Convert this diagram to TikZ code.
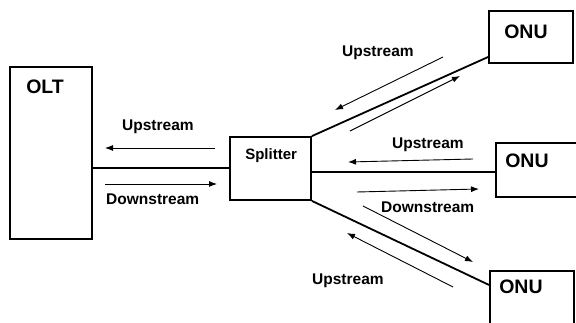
\documentclass[tikz,border=0pt]{standalone}
\usepackage{fontspec}
\setmainfont{Liberation Sans}
\usetikzlibrary{arrows.meta,backgrounds}

\begin{document}
\begin{tikzpicture}[%
        x=1pt, y=-1pt,%
        show background rectangle,%
        tight background,%
        background rectangle/.style={fill=white}%
    ]
%
% Styles
%
\tikzset{every node/.style={font=\bfseries}};%
\tikzset{boite/.style={draw, line width=1.8pt, rectangle, inner sep=0pt}};%
\tikzset{titre/.style={anchor=north west, inner sep=0pt, font=\bfseries\fontsize{19.5}{22}\selectfont}};%
\tikzset{petit titre/.style={titre, font=\bfseries\fontsize{15}{18}\selectfont}};%
\tikzset{fibre/.style={line width=1.8pt}};%
\tikzset{fleche/.style={line width=0.9pt, -{Latex[length=8pt,width=6pt]}}};%
\tikzset{sens/.style={anchor=base west, inner sep=0pt, font=\bfseries\fontsize{15.5}{18}\selectfont}};%

\clip (0,0) rectangle (576,323);%

%
% Boxes
%
\node[boite, minimum width=82pt, minimum height=172pt,
      label={[titre, xshift=17pt, yshift=-14pt]north west:OLT}] (olt) at (51,153) {};%
\node[boite, minimum width=81pt, minimum height=63pt,
      label={[petit titre, xshift=16pt, yshift=-12pt]north west:Splitter}] (splitter) at (270.5,168.5) {};%
\node[boite, minimum width=84pt, minimum height=52pt,
      label={[titre, xshift=16pt, yshift=-15pt]north west:ONU}] (onuA) at (531,37) {};%
\node[boite, minimum width=94pt, minimum height=54pt,
      label={[titre, xshift=10pt, yshift=-12pt]north west:ONU}] (onuB) at (543,170) {};%
\node[boite, minimum width=84pt, minimum height=70pt,
      label={[titre, xshift=10pt, yshift=-10pt]north west:ONU}] (onuC) at (532,306) {};%

%
% Fibres
%
\draw[fibre] (olt.east |- 0,168) -- (splitter.west |- 0,168);%
\draw[fibre] (splitter.north east) -- (onuA.west |- 0,57);%
\draw[fibre] (splitter.east |- 0,172) -- (onuB.west |- 0,172);%
\draw[fibre] (splitter.south east) -- (onuC.west |- 0,285);%

%
% Arrow ends
%
\coordinate (oltHautD) at (215,148);  \coordinate (oltHautF) at (105,148);%
\coordinate (oltBasD)  at (105,184);  \coordinate (oltBasF)  at (217,184);%
\coordinate (aMonteD)  at (443,57);   \coordinate (aMonteF)  at (335,110);%
\coordinate (aDescD)   at (350,131);  \coordinate (aDescF)   at (460,76);%
\coordinate (bMonteD)  at (473,159);  \coordinate (bMonteF)  at (348,162);%
\coordinate (bDescD)   at (357,192);  \coordinate (bDescF)   at (479,189);%
\coordinate (cDescD)   at (363,206);  \coordinate (cDescF)   at (473,262);%
\coordinate (cMonteD)  at (453,287);  \coordinate (cMonteF)  at (347,233);%

\draw[fleche] (oltHautD) -- (oltHautF);%
\draw[fleche] (oltBasD) -- (oltBasF);%
\draw[fleche] (aMonteD) -- (aMonteF);%
\draw[fleche] (aDescD) -- (aDescF);%
\draw[fleche] (bMonteD) -- (bMonteF);%
\draw[fleche] (bDescD) -- (bDescF);%
\draw[fleche] (cDescD) -- (cDescF);%
\draw[fleche] (cMonteD) -- (cMonteF);%

%
% Labels
%
\node[sens] (upOlt)   at (122,131) {Upstream};%
\node[sens] (downOlt) at (106,205) {Downstream};%
\node[sens] (upA)     at (342,57)  {Upstream};%
\node[sens] (upB)     at (392,149) {Upstream};%
\node[sens] (downB)   at (381,213) {Downstream};%
\node[sens] (upC)     at (312,284) {Upstream};%
\end{tikzpicture}
\end{document}
